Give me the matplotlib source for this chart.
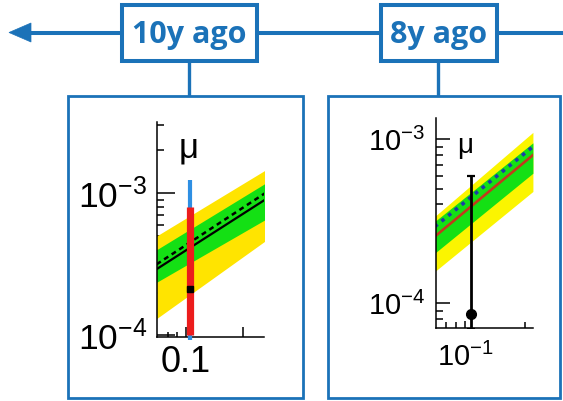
import matplotlib
matplotlib.use('Agg')
import matplotlib.pyplot as plt
from matplotlib.patches import Rectangle, Polygon
from matplotlib.ticker import LogLocator, NullFormatter

plt.rcParams['font.family'] = ['Liberation Sans', 'DejaVu Sans']
plt.rcParams['mathtext.fontset'] = 'custom'
plt.rcParams['mathtext.rm'] = 'Liberation Sans'
plt.rcParams['mathtext.it'] = 'Liberation Sans:italic'
plt.rcParams['mathtext.bf'] = 'Liberation Sans:bold'

# ---------------- data ----------------
timeline_labels = ['10y ago', '8y ago']

# panel 1 (10y ago)
p1_x = [0.07, 0.26]
p1_yellow_lo = [1.31e-4, 4.6e-4]
p1_yellow_hi = [5.0e-4, 1.45e-3]
p1_green_lo = [2.36e-4, 6.5e-4]
p1_green_hi = [4.0e-4, 1.17e-3]
p1_expected = [3.16e-4, 1.0e-3]
p1_observed = [2.92e-4, 9.0e-4]
p1_point_x = 0.1055
p1_point_y = 2.12e-4
p1_blue_range = [9.3e-5, 1.24e-3]
p1_red_range = [1.0e-4, 8.0e-4]
p1_xticks = [0.1, 0.2]
p1_xticklabels = ['0.1', '']
p1_yticks = [1e-4, 1e-3]
p1_yticklabels = [r'$\mathregular{10^{-4}}$', r'$\mathregular{10^{-3}}$']

# panel 2 (8y ago)
p2_x = [0.07, 0.22]
p2_yellow_lo = [1.56e-4, 4.8e-4]
p2_yellow_hi = [3.38e-4, 1.1e-3]
p2_green_lo = [2.02e-4, 6.2e-4]
p2_green_hi = [3.15e-4, 9.5e-4]
p2_expected = [2.93e-4, 9.0e-4]
p2_observed = [2.55e-4, 8.0e-4]
p2_point_x = 0.1066
p2_point_y = 8.65e-5
p2_err_lo = 7.0e-5
p2_err_hi = 5.97e-4
p2_xticks = [0.1]
p2_xticklabels = [r'$\mathregular{10^{-1}}$']
p2_yticks = [1e-4, 1e-3]
p2_yticklabels = [r'$\mathregular{10^{-4}}$', r'$\mathregular{10^{-3}}$']

# ---------------- styles ----------------
W, H = 563, 401
BLUE = '#1b72b8'
YELLOW1 = '#ffe400'
YELLOW2 = '#fbf500'
GREEN = '#14e014'

fig = plt.figure(figsize=(W / 100, H / 100), dpi=100)
fig.patch.set_facecolor('white')

# background "diagram" axes in pixel coordinates
bg = fig.add_axes([0, 0, 1, 1])
bg.set_xlim(0, W)
bg.set_ylim(H, 0)
bg.axis('off')

# timeline
bg.plot([28, W], [32.5, 32.5], color=BLUE, lw=2.9, solid_capstyle='butt', zorder=1)
bg.add_patch(Polygon([(9, 32.5), (31, 23), (31, 42)], closed=True, fc=BLUE, ec=BLUE, lw=0.5, zorder=1))
# connectors
bg.plot([189.3, 189.3], [60, 96], color=BLUE, lw=2.4, zorder=1)
bg.plot([438.3, 438.3], [60, 96], color=BLUE, lw=2.4, zorder=1)
# label boxes
for (x0, w), lab in zip([(121.7, 135.0), (380.7, 116.0)], timeline_labels):
    bg.add_patch(Rectangle((x0, 5), w, 55.5, fc='white', ec=BLUE, lw=2.9, zorder=3))
    bg.text(x0 + w / 2, 42.7, lab, ha='center', va='baseline', color=BLUE,
            fontfamily=['Open Sans', 'DejaVu Sans'], fontweight='bold', fontsize=22, zorder=4)
# panels
bg.add_patch(Rectangle((68, 96), 235, 302, fc='white', ec=BLUE, lw=2.0, zorder=2))
bg.add_patch(Rectangle((328, 96), 232, 302, fc='white', ec=BLUE, lw=2.0, zorder=2))


def make_ax(left, right, top, bottom):
    ax = fig.add_axes([left / W, (H - bottom) / H, (right - left) / W, (bottom - top) / H])
    ax.set_facecolor('none')
    ax.set_xscale('log')
    ax.set_yscale('log')
    for s in ['top', 'right']:
        ax.spines[s].set_visible(False)
    for s in ['left', 'bottom']:
        ax.spines[s].set_linewidth(1.1)
    ax.set_axisbelow(True)
    return ax


# ---------------- panel 1 ----------------
ax1 = make_ax(157.3, 264.0, 121.7, 336.5)
ax1.fill_between(p1_x, p1_yellow_lo, p1_yellow_hi, color=YELLOW1, lw=0, zorder=1)
ax1.fill_between(p1_x, p1_green_lo, p1_green_hi, color=GREEN, lw=0, zorder=1.1)
ax1.plot(p1_x, p1_observed, color='black', lw=1.6, zorder=2)
ax1.plot(p1_x, p1_expected, color='black', lw=1.8, linestyle=(0, (2.0, 1.6)), zorder=2)
ax1.vlines(p1_point_x, p1_blue_range[0], p1_blue_range[1], color='#2e8fe3', lw=3.0,
           zorder=3, clip_on=False)
ax1.vlines(p1_point_x, p1_red_range[0], p1_red_range[1], color='#ec1c1c', lw=5.2, zorder=4)
ax1.plot([p1_point_x], [p1_point_y], marker='s', color='black', ms=5, lw=0, zorder=5)
ax1.set_xlim(0.0706, 0.257)
ax1.set_ylim(0.98e-4, 3.19e-3)
ax1.set_xticks(p1_xticks, labels=p1_xticklabels)
ax1.set_xticks([0.08, 0.09], minor=True)
ax1.xaxis.set_minor_formatter(NullFormatter())
ax1.set_yticks(p1_yticks, labels=p1_yticklabels)
ax1.yaxis.set_minor_locator(LogLocator(base=10, subs=range(2, 10)))
ax1.yaxis.set_minor_formatter(NullFormatter())
ax1.tick_params(axis='y', which='major', direction='in', length=13, width=1.1, labelsize=25.5, pad=7.5)
ax1.tick_params(axis='y', which='minor', direction='in', length=5, width=1.1)
ax1.tick_params(axis='x', which='major', direction='in', length=7, width=1.1, labelsize=26, pad=6)
ax1.tick_params(axis='x', which='minor', direction='in', length=3.5, width=1.1)
bg.text(189, 158, 'μ', ha='center', va='baseline', fontsize=25, color='black', zorder=10)

# ---------------- panel 2 ----------------
ax2 = make_ax(435.5, 533.3, 118.3, 327.7)
ax2.fill_between(p2_x, p2_yellow_lo, p2_yellow_hi, color=YELLOW2, lw=0, zorder=1)
ax2.fill_between(p2_x, p2_green_lo, p2_green_hi, color=GREEN, lw=0, zorder=1.1)
ax2.plot(p2_x, p2_observed, color='#c23a1c', lw=1.9, zorder=2)
ax2.plot(p2_x, p2_expected, color='#1c3ca8', lw=2.6, linestyle=(0, (1.0, 1.4)), zorder=2.1)
ax2.errorbar([p2_point_x], [p2_point_y],
             yerr=[[p2_point_y - p2_err_lo], [p2_err_hi - p2_point_y]],
             fmt='o', color='black', ms=7, elinewidth=2.0, capsize=2.6, capthick=1.6, zorder=4)
ax2.set_xlim(0.0706, 0.221)
ax2.set_ylim(7.1e-5, 1.34e-3)
ax2.set_xticks(p2_xticks, labels=p2_xticklabels)
ax2.set_xticks([0.08, 0.09, 0.2], minor=True)
ax2.xaxis.set_minor_formatter(NullFormatter())
ax2.set_yticks(p2_yticks, labels=p2_yticklabels)
ax2.yaxis.set_minor_locator(LogLocator(base=10, subs=range(2, 10)))
ax2.yaxis.set_minor_formatter(NullFormatter())
ax2.tick_params(axis='y', which='major', direction='in', length=10, width=1.1, labelsize=21, pad=7.5)
ax2.tick_params(axis='y', which='minor', direction='in', length=5, width=1.1)
ax2.tick_params(axis='x', which='major', direction='in', length=5, width=1.1, labelsize=21, pad=11)
ax2.tick_params(axis='x', which='minor', direction='in', length=4.5, width=1.1)
bg.text(465, 153, 'μ', ha='center', va='baseline', fontsize=20, color='black', zorder=10)

fig.savefig('out.png', dpi=100, facecolor='white')
